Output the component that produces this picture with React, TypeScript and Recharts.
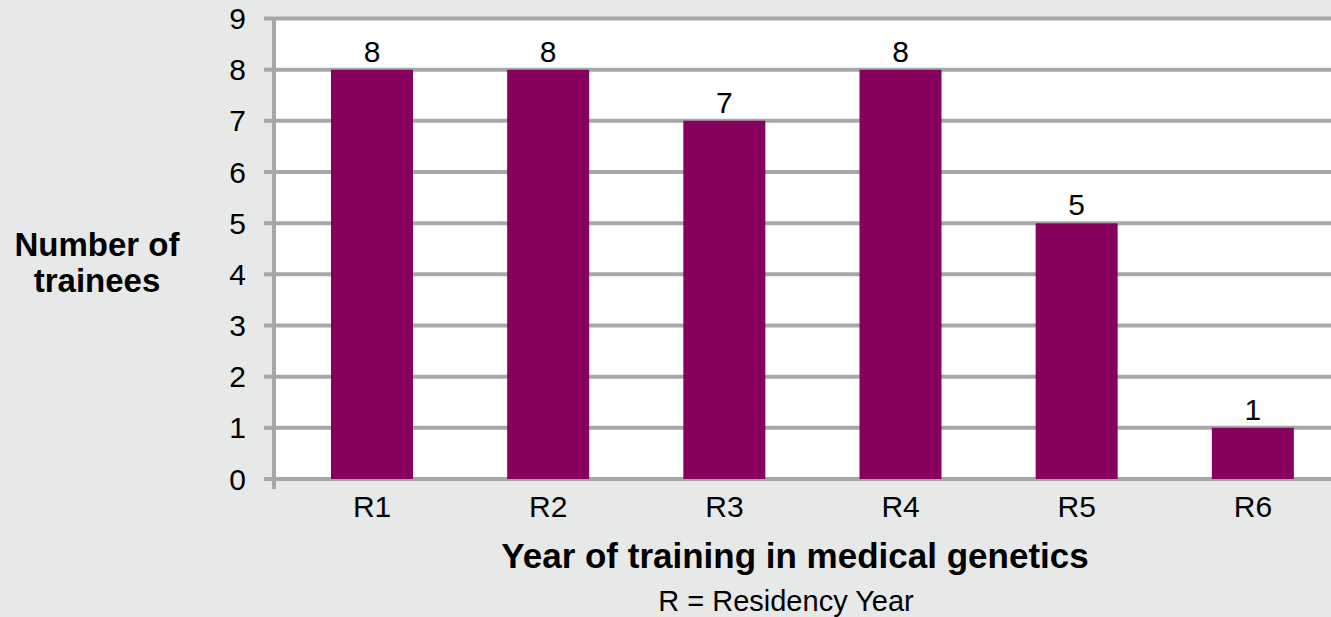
import React from 'react';
import { BarChart, Bar, XAxis, YAxis, CartesianGrid, LabelList, Label } from 'recharts';

const categories = ['R1', 'R2', 'R3', 'R4', 'R5', 'R6'];
const trainees = [8, 8, 7, 8, 5, 1];
const yTicks = [0, 1, 2, 3, 4, 5, 6, 7, 8, 9];

const data = categories.map((c, i) => ({ name: c, value: trainees[i] }));

const FONT = '"Liberation Sans", Arial, Helvetica, sans-serif';
const BG = '#e7e8e8';
const GRID = '#a7a7a7';
const BAR = '#87005d';
const Y_TICK_SIZE = 10;
const Y_TICK_MARGIN = 18;

const XTitle = () => (
  <g>
    <text x={795} y={568} textAnchor="middle" fontFamily={FONT} fontWeight="bold" fontSize={35} fill="#000">
      Year of training in medical genetics
    </text>
    <text x={786} y={611} textAnchor="middle" fontFamily={FONT} fontSize={29} fill="#000">
      R = Residency Year
    </text>
  </g>
);

const YTitle = () => (
  <g>
    <text x={97} y={256} textAnchor="middle" fontFamily={FONT} fontWeight="bold" fontSize={33} fill="#000">
      Number of
    </text>
    <text x={97} y={292} textAnchor="middle" fontFamily={FONT} fontWeight="bold" fontSize={33} fill="#000">
      trainees
    </text>
  </g>
);

const YTick = (props: any) => {
  const { x, y, payload } = props;
  const axisX = x + Y_TICK_SIZE + Y_TICK_MARGIN;
  return (
    <g>
      <text x={x} y={y} dy="0.355em" textAnchor="end" fontFamily={FONT} fontSize={30} fill="#000">
        {payload.value}
      </text>
      {payload.value === 0 ? (
        <line x1={axisX} x2={axisX} y1={y - 2} y2={y + 10} stroke={GRID} strokeWidth={4} />
      ) : null}
    </g>
  );
};

export default function App() {
  return (
    <div style={{ width: 1331, height: 617, overflow: 'hidden', background: BG, position: 'relative' }}>
      <style>{`body{margin:0;background:${BG};overflow:hidden}`}</style>
      <BarChart
        width={1341}
        height={617}
        data={data}
        margin={{ top: 18.5, right: 0, bottom: 0, left: 0 }}
        style={{ fontFamily: FONT }}
      >
        <CartesianGrid vertical={false} horizontal={true} stroke={GRID} strokeWidth={4} fill="#ffffff" fillOpacity={1} />
        <XAxis
          dataKey="name"
          type="category"
          padding={{ left: 10, right: 0 }}
          axisLine={false}
          tickLine={false}
          tickSize={0}
          tickMargin={17}
          height={138}
          interval={0}
          tick={{ fill: '#000', fontSize: 30, fontFamily: FONT }}
        >
          <Label content={() => <XTitle />} />
        </XAxis>
        <YAxis
          type="number"
          domain={[0, 9]}
          ticks={yTicks}
          interval={0}
          width={274}
          axisLine={{ stroke: GRID, strokeWidth: 4 }}
          tickLine={{ stroke: GRID, strokeWidth: 4 }}
          tickSize={Y_TICK_SIZE}
          tickMargin={Y_TICK_MARGIN}
          allowDecimals={false}
          tick={<YTick />}
        >
          <Label content={() => <YTitle />} />
        </YAxis>
        <Bar dataKey="value" fill={BAR} barSize={82} isAnimationActive={false}>
          <LabelList dataKey="value" position="top" offset={8} fill="#000" fontSize={30} fontFamily={FONT} />
        </Bar>
      </BarChart>
    </div>
  );
}
